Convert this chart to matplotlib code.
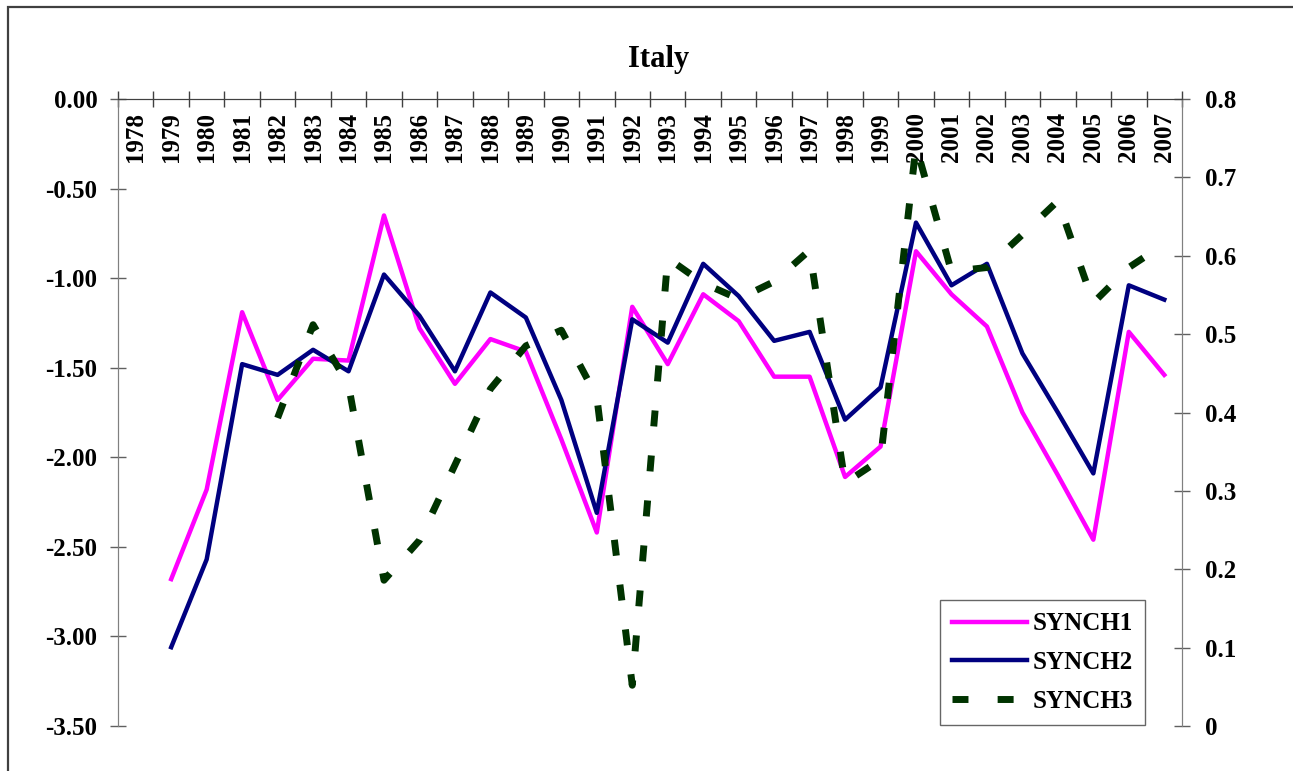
import matplotlib
matplotlib.use("Agg")
import matplotlib.pyplot as plt
import matplotlib.patches as patches
import numpy as np

plt.rcParams['font.family'] = ['Liberation Serif', 'DejaVu Serif']
plt.rcParams['font.weight'] = 'bold'

# data
years = list(range(1978, 2008))
nan = np.nan
synch1 = [nan, -2.68, -2.18, -1.19, -1.68, -1.45, -1.46, -0.65, -1.28, -1.59,
          -1.34, -1.41, -1.90, -2.42, -1.16, -1.48, -1.09, -1.24, -1.55, -1.55,
          -2.11, -1.94, -0.85, -1.09, -1.27, -1.75, -2.10, -2.46, -1.30, -1.54]
synch2 = [nan, -3.06, -2.57, -1.48, -1.54, -1.40, -1.52, -0.98, -1.21, -1.52,
          -1.08, -1.22, -1.68, -2.31, -1.23, -1.36, -0.92, -1.10, -1.35, -1.30,
          -1.79, -1.61, -0.69, -1.04, -0.92, -1.42, -1.75, -2.09, -1.04, -1.12]
synch3 = [nan, nan, nan, nan, 0.393, 0.512, 0.435, 0.186, 0.237, 0.333,
          0.43, 0.485, 0.505, 0.42, 0.052, 0.597, 0.565, 0.545, 0.567, 0.607,
          0.31, 0.34, 0.74, 0.58, 0.585, 0.627, 0.67, 0.54, 0.585, 0.615]

left_ticks = [0.0, -0.5, -1.0, -1.5, -2.0, -2.5, -3.0, -3.5]
left_labels = ['0.00', '-0.50', '-1.00', '-1.50', '-2.00', '-2.50', '-3.00', '-3.50']
right_ticks = [0.8, 0.7, 0.6, 0.5, 0.4, 0.3, 0.2, 0.1, 0.0]
right_labels = ['0.8', '0.7', '0.6', '0.5', '0.4', '0.3', '0.2', '0.1', '0']

W, H = 1293, 771
fig = plt.figure(figsize=(W / 100, H / 100), dpi=100)
ax = fig.add_axes([118 / W, 1 - 726 / H, (1182 - 118) / W, (726 - 99) / H])
ax2 = ax.twinx()

x = np.arange(len(years))
l1, = ax.plot(x, synch1, color='#FF00FF', lw=3.2, label='SYNCH1', zorder=3)
l2, = ax.plot(x, synch2, color='#000080', lw=3.2, label='SYNCH2', zorder=3)
l3, = ax2.plot(x, synch3, color='#003300', lw=5, ls=(0, (2.3, 4.2)),
               dash_capstyle='butt', label='SYNCH3')

ax.set_xlim(-0.5, len(years) - 0.5)
ax.set_ylim(-3.5, 0)
ax2.set_ylim(0, 0.8)

# category axis sits at y=0 (top), ticks between categories
ax.set_xticks(np.arange(len(years) + 1) - 0.5)
ax.tick_params(axis='x', which='major', top=True, bottom=False,
               labeltop=False, labelbottom=False, direction='inout',
               length=11.5, width=1, color='#404040')
for i, yr in enumerate(years):
    ax.annotate(str(yr), xy=(i, 0), xytext=(0, -9.5), textcoords='offset points',
                rotation=90, ha='center', va='top', fontsize=18,
                fontweight='bold')

ax.set_yticks(left_ticks, labels=left_labels)
ax.tick_params(axis='y', direction='inout', length=11.5, width=1,
               color='#606060', labelsize=18, pad=9)
ax2.set_yticks(right_ticks, labels=right_labels)
ax2.tick_params(axis='y', direction='inout', length=11.5, width=1,
                color='#606060', labelsize=18, pad=11)

for a in (ax, ax2):
    a.spines['bottom'].set_visible(False)
    a.spines['left'].set_color('#808080')
    a.spines['right'].set_color('#808080')
    a.spines['top'].set_color('#404040')
    a.patch.set_visible(False)

leg = ax2.legend(handles=[l1, l2, l3], loc='lower right',
                 bbox_to_anchor=(1145 / W, 1 - 725 / H), bbox_transform=fig.transFigure,
                 fontsize=18, frameon=True, fancybox=False, edgecolor='#404040',
                 handlelength=3.0, handletextpad=0.2, labelspacing=0.62,
                 borderpad=0.5, borderaxespad=0)
leg.get_frame().set_linewidth(1)

fig.text(659 / W, 1 - 60 / H, 'Italy', ha='center', va='center',
         fontsize=22, fontweight='bold')

# outer chart frame (cut off at right and bottom)
fig.patches.append(patches.Rectangle((8 / W, -0.1), 1.2, 1 - 7 / H + 0.1,
                                     transform=fig.transFigure, fill=False,
                                     edgecolor='#404040', lw=1.6))

fig.savefig('out.png', dpi=100)
